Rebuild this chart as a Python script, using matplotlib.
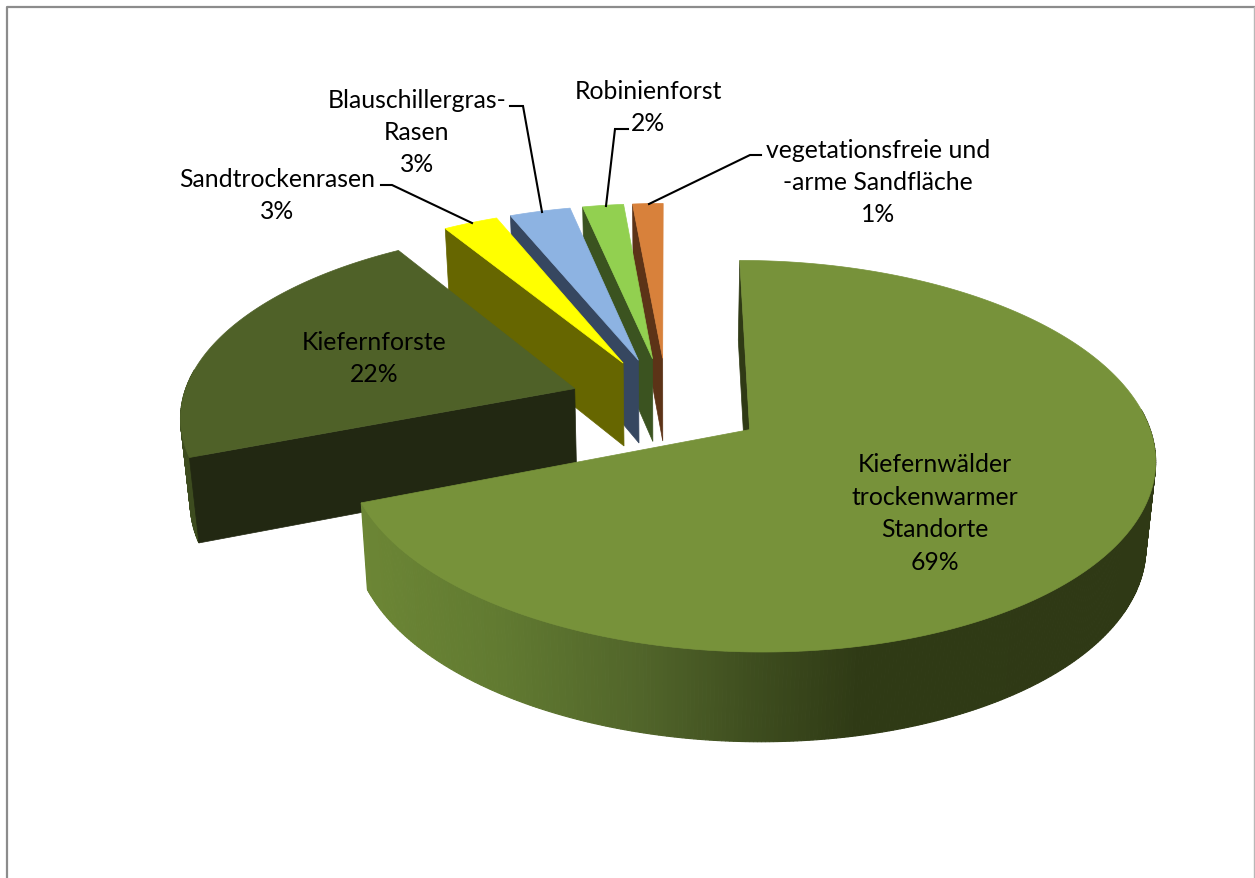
# -*- coding: utf-8 -*-
import numpy as np
import matplotlib
matplotlib.use("Agg")
import matplotlib.pyplot as plt
from matplotlib.patches import Polygon

# share of each habitat in percent (labels show the rounded value)
names = ["Kiefernwälder\ntrockenwarmer\nStandorte", "Kiefernforste", "Sandtrockenrasen",
         "Blauschillergras-\nRasen", "Robinienforst", "vegetationsfreie und\n-arme Sandfläche"]
values = [69.1, 22.0, 2.6, 2.9, 1.95, 1.45]

topColors = ["#77923a", "#4f6128", "#ffff00", "#8db3e2", "#92d050", "#d8813b"]
cutColors = ["#2f3a15", "#222812", "#666600", "#364760", "#3b5320", "#5c3317"]
wallColors = [None, "#3d4c1f", "#666600", "#364760", "#3b5320", "#5c3317"]

labelPos = [(935, 513.5), (374, 358.5), (277, 195.5), (417, 132.5), (648, 107.5), (878, 182.5)]
leaders = [None, None,
           [(381, 186), (392, 186), (472, 224)],
           [(510, 107), (523, 107), (542, 213)],
           [(628, 130), (615, 130), (606, 207)],
           [(761, 156), (750, 156), (649, 205)]]

# view of the pie plane, in pixels
centerX, centerY = 667, 404
radiusX, radiusY = 393, 185
persp = 7.5
explode = 0.25
startAngle = 0
depth = 84
# the far slices come out a bit longer than the plane model gives
farStretch = [1.0, 1.0, 1.01, 1.01, 1.01, 1.01]

# colours of the big slice's outer wall, going along the screen x
wallStopsX = [360, 500, 640, 760, 860, 1160]
wallStopsC = ["#6c8635", "#617a31", "#51652a", "#3d4c1e", "#2f3a15", "#2f3915"]


def project(u, v, bottom = False):
    s = persp / (persp + v)
    x = centerX + radiusX * u * s
    y = centerY - radiusY * v * s
    if bottom:
        x = centerX + (x - centerX) * 0.98
        y = y + depth * (1 - 0.06 * v)
    return x, y


def hexToRgb(c):
    return np.array(matplotlib.colors.to_rgb(c))


def wallColor(x):
    stops = np.array([hexToRgb(c) for c in wallStopsC])
    return tuple(np.interp(x, wallStopsX, stops[:, i]) for i in range(3))


def drawSlice(ax, a0, a1, i):
    mid = np.radians((a0 + a1) / 2)
    ox, oy = explode * np.sin(mid), explode * np.cos(mid)
    angles = np.radians(np.linspace(a0, a1, max(int(a1 - a0) * 2, 8)))
    us = ox + np.sin(angles)
    vs = oy + np.cos(angles) * farStretch[i]

    # outer wall first, only the part that faces the viewer
    for j in range(len(angles) - 1):
        if np.cos(angles[j]) > 0.1 and np.cos(angles[j + 1]) > 0.1:
            continue
        p1 = project(us[j], vs[j])
        p2 = project(us[j + 1], vs[j + 1])
        p3 = project(us[j + 1], vs[j + 1], True)
        p4 = project(us[j], vs[j], True)
        c = wallColors[i] if wallColors[i] is not None else wallColor((p1[0] + p2[0]) / 2)
        ax.add_patch(Polygon([p1, p2, p3, p4], facecolor = c, edgecolor = c, linewidth = 0.8))

    # cut face on the leading edge of the slice
    cut = [project(ox, oy), project(us[0], vs[0]), project(us[0], vs[0], True), project(ox, oy, True)]
    ax.add_patch(Polygon(cut, facecolor = cutColors[i], edgecolor = cutColors[i], linewidth = 0.5))

    outline = [project(ox, oy)] + [project(a, b) for a, b in zip(us, vs)]
    ax.add_patch(Polygon(outline, facecolor = topColors[i], edgecolor = topColors[i], linewidth = 0.5))


fig = plt.figure(figsize = (12.55, 8.79), dpi = 100)
ax = fig.add_axes([0, 0, 1, 1])
ax.set_xlim(0, 1255)
ax.set_ylim(879, 0)
ax.axis("off")

# chart frame, cut off at the bottom of the picture
ax.plot([7, 7, 1254], [879, 7.5, 7.5], color = "#8c8c8c", linewidth = 1.6)
ax.plot([1254, 1254], [7.5, 879], color = "#b8b8b8", linewidth = 1.0)

shares = np.array(values) / np.sum(values) * 360
edges = startAngle + np.concatenate([[0], np.cumsum(shares)])

# back to front
for i in [5, 4, 3, 2, 1, 0]:
    drawSlice(ax, edges[i], edges[i + 1], i)

for i in range(len(values)):
    if leaders[i] is not None:
        xs, ys = zip(*leaders[i])
        ax.plot(xs, ys, color = "black", linewidth = 1.5, solid_joinstyle = "miter")
    ax.text(labelPos[i][0], labelPos[i][1], names[i] + "\n" + str(round(values[i])) + "%",
            ha = "center", va = "center", multialignment = "center", family = "Lato",
            fontsize = 17.8, linespacing = 1.5, color = "black")

fig.savefig("out.png", dpi = 100)
